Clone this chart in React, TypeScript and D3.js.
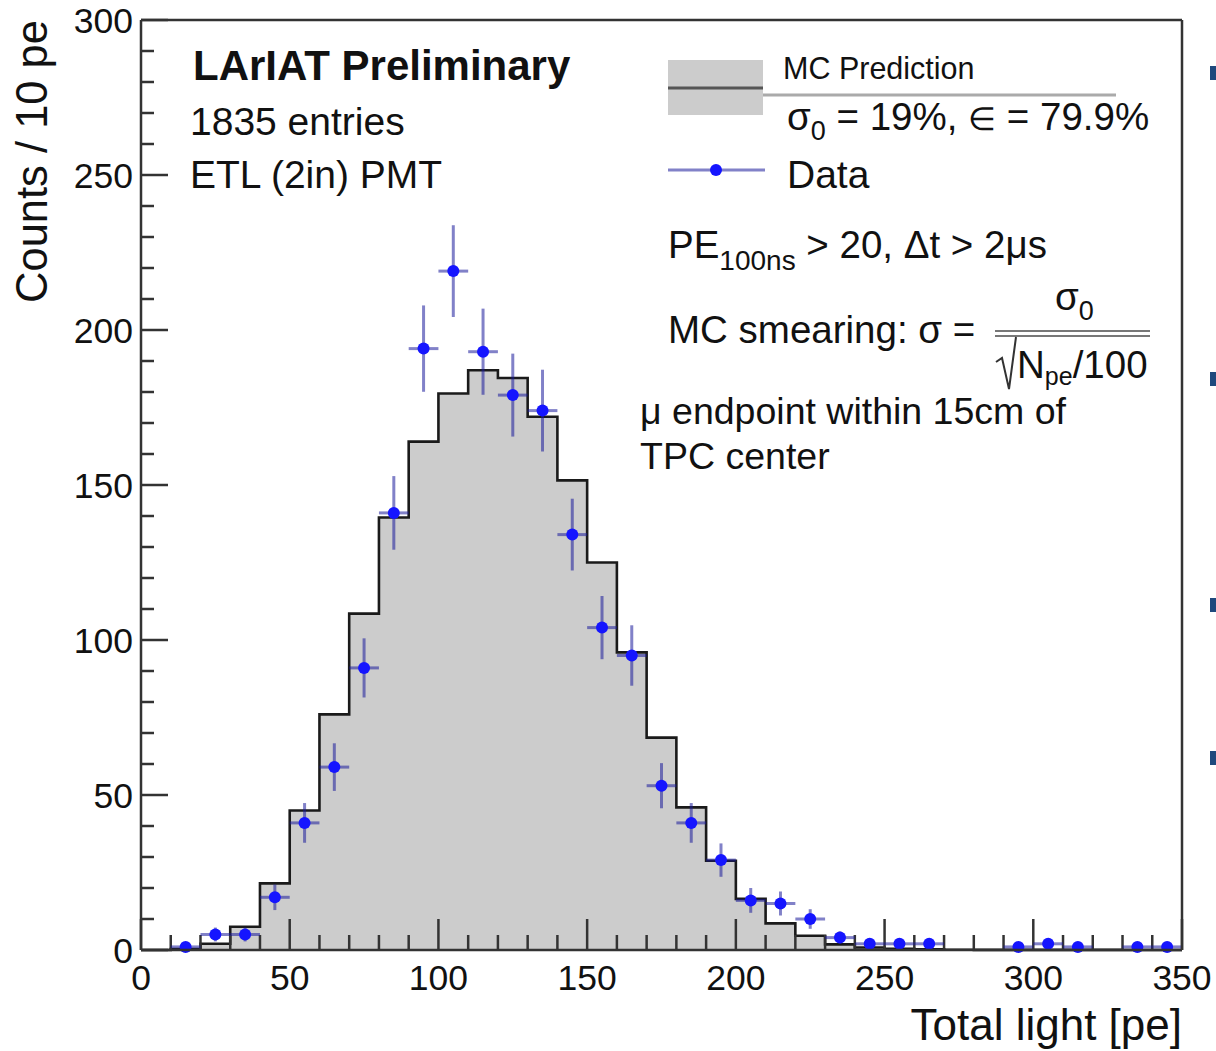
import React from 'react';
import * as d3 from 'd3';

// ---- Data ----
// MC prediction histogram: bin low edges (10 pe bins) and contents
const mcBinLow = [0, 10, 20, 30, 40, 50, 60, 70, 80, 90, 100, 110, 120, 130, 140, 150, 160, 170, 180, 190, 200, 210, 220, 230, 240, 250, 260, 270, 280, 290, 300, 310, 320, 330, 340];
const mcCounts = [0, 0.3, 2, 7.5, 21.5, 45, 76, 108.5, 139.5, 164, 179.5, 187, 184.5, 172, 151.5, 125, 96, 68.5, 46, 28.8, 16.5, 8.6, 4.6, 1.8, 0.8, 0.4, 0.2, 0.1, 0.05, 0.05, 0.05, 0.03, 0.03, 0.02, 0.02];
const BIN_WIDTH = 10;

// Data points: bin centres and counts
const dataCenters = [15, 25, 35, 45, 55, 65, 75, 85, 95, 105, 115, 125, 135, 145, 155, 165, 175, 185, 195, 205, 215, 225, 235, 245, 255, 265, 275, 285, 295, 305, 315, 325, 335, 345];
const dataCounts = [1, 5, 5, 17, 41, 59, 91, 141, 194, 219, 193, 179, 174, 134, 104, 95, 53, 41, 29, 16, 15, 10, 4, 2, 2, 2, 0, 0, 1, 2, 1, 0, 1, 1];

// Axis ticks
const xMajorTicks = [0, 50, 100, 150, 200, 250, 300, 350];
const yMajorTicks = [0, 50, 100, 150, 200, 250, 300];
const MINOR_STEP = 10;

// Slide bullet markers at the right edge
const bulletY = [73, 379, 605, 758];

const FONT = '"Liberation Sans", Arial, Helvetica, sans-serif';

export default function App() {
  const x = d3.scaleLinear().domain([0, 350]).range([141, 1182]);
  const y = d3.scaleLinear().domain([0, 300]).range([950, 20]);

  const histPts: [number, number][] = mcBinLow.map((lo, i) => [lo, mcCounts[i]]);
  histPts.push([mcBinLow[mcBinLow.length - 1] + BIN_WIDTH, mcCounts[mcCounts.length - 1]]);

  const area = d3
    .area<[number, number]>()
    .x((d) => x(d[0]))
    .y0(y(0))
    .y1((d) => y(d[1]))
    .curve(d3.curveStepAfter);
  const line = d3
    .line<[number, number]>()
    .x((d) => x(d[0]))
    .y((d) => y(d[1]))
    .curve(d3.curveStepAfter);

  const minorX = d3.range(0, 351, MINOR_STEP).filter((v) => !xMajorTicks.includes(v));
  const minorY = d3.range(0, 301, MINOR_STEP).filter((v) => !yMajorTicks.includes(v));

  const errColor = '#1a1a9a';
  const ptColor = '#1515ff';

  return (
    <svg
      width={1216}
      height={1051}
      style={{ position: 'absolute', left: 0, top: 0, background: '#fff' }}
      fontFamily={FONT}
    >
      <rect x={0} y={0} width={1216} height={1051} fill="#fff" />

      {/* MC histogram */}
      <path d={area(histPts) || ''} fill="#cccccc" />
      <path d={line(histPts) || ''} fill="none" stroke="#1a1a1a" strokeWidth={2.6} />

      {/* ticks */}
      <g stroke="#333" strokeWidth={2.5}>
        {xMajorTicks.map((v) => (
          <line key={'xM' + v} x1={x(v)} x2={x(v)} y1={y(0)} y2={y(0) - 31} />
        ))}
        {minorX.map((v) => (
          <line key={'xm' + v} x1={x(v)} x2={x(v)} y1={y(0)} y2={y(0) - 15} />
        ))}
        {yMajorTicks.map((v) => (
          <line key={'yM' + v} x1={x(0)} x2={x(0) + 27} y1={y(v)} y2={y(v)} />
        ))}
        {minorY.map((v) => (
          <line key={'ym' + v} x1={x(0)} x2={x(0) + 13} y1={y(v)} y2={y(v)} />
        ))}
      </g>

      {/* data points */}
      <g>
        {dataCenters.map((c, i) => {
          const n = dataCounts[i];
          if (n <= 0) return null;
          const e = Math.sqrt(n);
          return (
            <g key={'d' + c}>
              <line x1={x(c - BIN_WIDTH / 2)} x2={x(c + BIN_WIDTH / 2)} y1={y(n)} y2={y(n)} stroke={errColor} strokeOpacity={0.55} strokeWidth={3} />
              <line x1={x(c)} x2={x(c)} y1={y(n + e)} y2={y(Math.max(0, n - e))} stroke={errColor} strokeOpacity={0.55} strokeWidth={3} />
              <circle cx={x(c)} cy={y(n)} r={6} fill={ptColor} />
            </g>
          );
        })}
      </g>

      {/* frame */}
      <g stroke="#333" strokeWidth={2.5} fill="none">
        <line x1={x(0)} x2={x(350)} y1={y(0)} y2={y(0)} />
        <line x1={x(0)} x2={x(0)} y1={y(0)} y2={y(300)} />
        <line x1={x(0)} x2={x(350)} y1={y(300)} y2={y(300)} />
        <line x1={x(350)} x2={x(350)} y1={y(0)} y2={y(300)} />
      </g>

      {/* tick labels */}
      <g fontSize={35.5} fill="#111">
        {xMajorTicks.map((v) => (
          <text key={'xl' + v} x={x(v)} y={990} textAnchor="middle">
            {v}
          </text>
        ))}
        {yMajorTicks.map((v) => (
          <text key={'yl' + v} x={133} y={y(v) + 12.5} textAnchor="end">
            {v}
          </text>
        ))}
      </g>

      {/* axis titles */}
      <text x={1182} y={1040} fontSize={44} textAnchor="end" fill="#111">
        Total light [pe]
      </text>
      <text transform={`translate(47,20) rotate(-90)`} fontSize={43.5} textAnchor="end" fill="#111">
        Counts / 10 pe
      </text>

      {/* top-left labels */}
      <text x={193} y={80} fontSize={42} fontWeight="bold" fill="#111">
        LArIAT Preliminary
      </text>
      <text x={190} y={135} fontSize={39} fill="#111">
        1835 entries
      </text>
      <text x={190} y={188} fontSize={39} fill="#111">
        ETL (2in) PMT
      </text>

      {/* legend: MC */}
      <rect x={668} y={60} width={95} height={55} fill="#cccccc" />
      <line x1={668} x2={763} y1={88} y2={88} stroke="#555" strokeWidth={3} />
      <rect x={763} y={43} width={353} height={52} fill="#fff" />
      <line x1={763} x2={1116} y1={95} y2={95} stroke="#aaa" strokeWidth={3} />
      <text x={783} y={79} fontSize={30.5} fill="#111">
        MC Prediction
      </text>
      <text x={787} y={130} fontSize={38.5} fill="#111">
        σ<tspan fontSize={27} dy={10}>0</tspan>
        <tspan dy={-10}> = 19%, </tspan>
        <tspan fontSize={32}>∈</tspan>
        <tspan> = 79.9%</tspan>
      </text>

      {/* legend: Data */}
      <line x1={668} x2={765} y1={170} y2={170} stroke={errColor} strokeOpacity={0.55} strokeWidth={3} />
      <circle cx={716} cy={170} r={6} fill={ptColor} />
      <text x={787} y={188} fontSize={39} fill="#111">
        Data
      </text>

      {/* cuts */}
      <text x={668} y={258} fontSize={38.5} fill="#111">
        PE<tspan fontSize={28} dy={12}>100ns</tspan>
        <tspan dy={-12}> &gt; 20, Δt &gt; 2μs</tspan>
      </text>

      {/* smearing formula */}
      <text x={668} y={343} fontSize={38.5} fill="#111">
        MC smearing: σ =
      </text>
      <text x={1055} y={310} fontSize={38.5} fill="#111">
        σ<tspan fontSize={27} dy={10}>0</tspan>
      </text>
      <line x1={995} x2={1150} y1={331} y2={331} stroke="#777" strokeWidth={2} />
      <line x1={995} x2={1150} y1={336} y2={336} stroke="#777" strokeWidth={2} />
      <path d="M996,362 L1002,358 L1009,389 L1016,337" fill="none" stroke="#333" strokeWidth={2} />
      <text x={1017} y={378} fontSize={38.5} fill="#111">
        N<tspan fontSize={25} dy={7}>pe</tspan>
        <tspan dy={-7}>/100</tspan>
      </text>

      <text x={640} y={424} fontSize={37.5} fill="#111">
        μ endpoint within 15cm of
      </text>
      <text x={640} y={469} fontSize={37.5} fill="#111">
        TPC center
      </text>

      {/* slide bullets at right edge */}
      {bulletY.map((by) => (
        <rect key={'b' + by} x={1210} y={by - 7} width={7} height={14} fill="#1f497d" />
      ))}
    </svg>
  );
}
